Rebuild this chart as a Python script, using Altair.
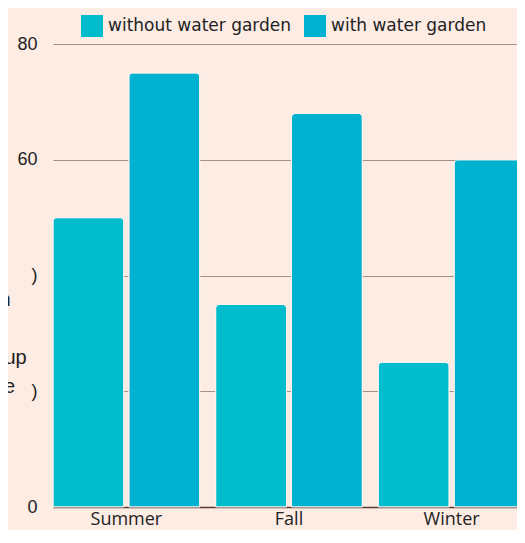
import altair as alt
import pandas as pd

seasons = ["Summer", "Fall", "Winter"]
series = ["without water garden", "with water garden"]
without_vals = [50, 35, 25]
with_vals = [75, 68, 60]
colors = ["#00bccc", "#00b2d0"]
y_ticks = [0, 20, 40, 60, 80]
y_title_lines = ["Frogs seen in", "each", "per garden group", "at a given time"]

rows = []
for s, a, b in zip(seasons, without_vals, with_vals):
    rows.append({"season": s, "series": series[0], "value": a})
    rows.append({"season": s, "series": series[1], "value": b})
df = pd.DataFrame(rows)

chart = alt.Chart(df).mark_bar(
    cornerRadiusTopLeft=4, cornerRadiusTopRight=4,
    stroke="#fdf4ef", strokeWidth=1
).encode(
    x=alt.X("season:N", sort=seasons,
            scale=alt.Scale(paddingInner=0.098, paddingOuter=0, range=[0, 472]),
            axis=alt.Axis(title=None, labelAngle=0, ticks=False, domain=True,
                          domainColor="#5a3b30", domainWidth=1.5,
                          labelFont="Open Sans", labelFontSize=18,
                          labelColor="#222222", labelPadding=3)),
    xOffset=alt.XOffset("series:N", sort=series,
                        scale=alt.Scale(paddingInner=0.066, paddingOuter=0)),
    y=alt.Y("value:Q", scale=alt.Scale(domain=[0, 80]),
            axis=alt.Axis(values=y_ticks, ticks=False, domain=False,
                          grid=True, gridColor="#a58e86", gridWidth=1,
                          labelFont="Liberation Sans", labelFontSize=18,
                          labelColor="#222222", labelPadding=16,
                          labelExpr="(datum.value == 40 || datum.value == 20) ? ')' : datum.label",
                          title=y_title_lines, titleAngle=0, titleAlign="center",
                          titleBaseline="alphabetic", titleX=-103.5, titleY=261,
                          titleFont="Liberation Sans", titleFontSize=20,
                          titleFontWeight="normal", titleColor="#222222",
                          titleLineHeight=29)),
    color=alt.Color("series:N", sort=series,
                    scale=alt.Scale(domain=series, range=colors),
                    legend=alt.Legend(title=None, orient="none", direction="horizontal",
                                      legendX=28, legendY=-29,
                                      symbolType="square", symbolSize=484,
                                      symbolStrokeWidth=0, symbolOpacity=1,
                                      labelFont="DejaVu Sans", labelFontSize=17,
                                      labelColor="#222222", labelOffset=5,
                                      labelLimit=0, columnPadding=12)),
).properties(
    width=464, height=463,
    autosize=alt.AutoSizeParams(type="none"),
    padding={"left": 45, "top": 36, "right": 0, "bottom": 23},
    background="#fdece4",
).configure_view(stroke=None)

chart.save("out.html", embed_options={"renderer": "svg", "actions": False})
